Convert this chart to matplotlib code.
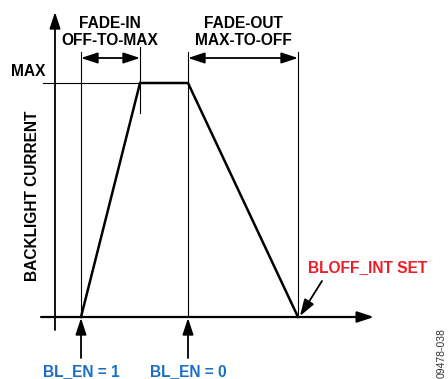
import matplotlib
matplotlib.use('Agg')
import matplotlib.pyplot as plt

plt.rcParams['font.family'] = ['Liberation Sans', 'DejaVu Sans']

# waveform corners (pixel space, y down)
curve_x = [81, 140, 188, 298]
curve_y = [317, 83, 83, 317]
x_en_on = 81
x_max_start = 140
x_en_off = 188
x_off = 298
y_zero = 317
y_max = 83
labels_top = ['FADE-IN\nOFF-TO-MAX', 'FADE-OUT\nMAX-TO-OFF']
labels_bottom = ['BL_EN = 1', 'BL_EN = 0']
blue = '#1b6ec2'
red = '#ee1c24'
fs = 11.2

fig = plt.figure(figsize=(4.48, 3.79), dpi=100)
ax = fig.add_axes([0, 0, 1, 1])
ax.set_xlim(0, 448)
ax.set_ylim(379, 0)
ax.axis('off')

head = '-|>,head_length=1.0,head_width=0.33'

# axes arrows
ax.annotate('', xy=(55, 12), xytext=(55, 330),
            arrowprops=dict(arrowstyle=head, lw=1.3, color='black', shrinkA=0, shrinkB=0))
ax.annotate('', xy=(374, y_zero), xytext=(41, y_zero),
            arrowprops=dict(arrowstyle=head, lw=1.6, color='black', shrinkA=0, shrinkB=0))

# thin guide lines
ax.plot([x_en_on, x_en_on], [52, y_zero], color='black', lw=0.8)
ax.plot([x_max_start, x_max_start], [47, 113], color='black', lw=0.8)
ax.plot([x_en_off, x_en_off], [52, y_zero], color='black', lw=0.8)
ax.plot([x_off, x_off], [52, y_zero], color='black', lw=0.8)
ax.plot([43, x_max_start], [y_max, y_max], color='black', lw=0.8)

# the current waveform
ax.plot(curve_x, curve_y, color='black', lw=1.8, solid_joinstyle='miter')

# duration arrows
for x0, x1 in [(x_en_on, x_max_start), (x_en_off, x_off)]:
    ax.annotate('', xy=(x1, 58), xytext=(x0, 58),
                arrowprops=dict(arrowstyle='<|-|>,head_length=1.0,head_width=0.33', lw=1.3, color='black', shrinkA=0, shrinkB=0))

ax.text(110, 32, labels_top[0], ha='center', va='center', fontsize=fs, fontweight='bold', linespacing=1.2)
ax.text(243, 32, labels_top[1], ha='center', va='center', fontsize=fs, fontweight='bold', linespacing=1.2)
ax.text(28, 72, 'MAX', ha='center', va='center', fontsize=fs, fontweight='bold')
ax.text(33, 196, 'BACKLIGHT CURRENT', ha='center', va='center', rotation=90, fontsize=fs, fontweight='bold')

# enable arrows
for x, lab in zip([x_en_on, x_en_off], labels_bottom):
    ax.annotate('', xy=(x, y_zero + 1), xytext=(x, 358),
                arrowprops=dict(arrowstyle=head, lw=1.3, color='black', shrinkA=0, shrinkB=0))
    ax.text(x, 372, lab, ha='center', va='center', fontsize=fs, fontweight='bold', color=blue)

ax.text(368, 268, 'BLOFF_INT SET', ha='center', va='center', fontsize=fs, fontweight='bold', color=red)
ax.annotate('', xy=(300, 316), xytext=(322, 281),
            arrowprops=dict(arrowstyle=head, lw=1.3, color='black', shrinkA=0, shrinkB=0))

ax.text(442, 353, '09478-038', ha='center', va='center', rotation=90, fontsize=7.5, color='#333333')

fig.savefig('out.png', dpi=100)
